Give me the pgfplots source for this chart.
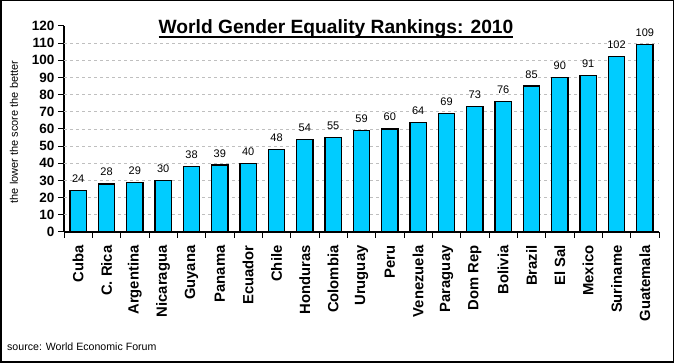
\documentclass[border=0pt]{standalone}
\usepackage{pgfplots}
\pgfplotsset{compat=1.18}
\usepackage{fontspec}
\setmainfont{Liberation Sans}
\definecolor{barcyan}{HTML}{00CCFF}
\definecolor{gridgray}{HTML}{BFBFBF}
\begin{document}
\begin{tikzpicture}[x=1pt,y=1pt]
\path[use as bounding box] (0,0) rectangle (674,363);
\draw[line width=1.5pt] (0.75,0.75) rectangle (673.25,362.25);
\begin{axis}[
  at={(64pt,131pt)}, anchor=south west,
  scale only axis, width=595pt, height=206pt,
  xmin=-0.5, xmax=20.5, ymin=0, ymax=120,
  axis lines*=left,
  axis line style={line width=1.2pt, black},
  tick align=outside,
  major tick length=6pt,
  tick style={line width=1pt, black},
  xtick={-0.5,0.5,...,20.5},
  x tick label as interval,
  xticklabel shift=4pt,
  xticklabels={Cuba,C. Rica,Argentina,Nicaragua,Guyana,Panama,Ecuador,Chile,Honduras,Colombia,Uruguay,Peru,Venezuela,Paraguay,Dom Rep,Bolivia,Brazil,El Sal,Mexico,Suriname,Guatemala},
  x tick label style={rotate=90, anchor=east, font=\fontsize{14.8}{16}\selectfont\bfseries},
  ytick={0,10,...,120},
  y tick label style={font=\fontsize{13.5}{15}\selectfont\bfseries},
  /pgf/number format/assume math mode=true,
  extra y ticks={10,20,...,110},
  extra y tick labels={},
  extra y tick style={grid=major, major tick length=0pt},
  grid style={dashed, gridgray, line width=0.8pt, dash pattern=on 3pt off 3pt},
  ybar, bar width=16.5pt,
  nodes near coords,
  every node near coord/.append style={font=\fontsize{11}{12}\selectfont, black, anchor=base, yshift=8pt},
  clip=false,
]
\addplot[fill=barcyan, draw=black, line width=1.2pt] coordinates {
(0,24) (1,28) (2,29) (3,30) (4,38) (5,39) (6,40) (7,48) (8,54) (9,55)
(10,59) (11,60) (12,64) (13,69) (14,73) (15,76) (16,85) (17,90) (18,91) (19,102) (20,109) };
\end{axis}
\node[font=\fontsize{19.2}{21}\selectfont\bfseries, anchor=base, inner sep=0] (t) at (336,329) {World Gender Equality Rankings: 2010};
\draw[line width=2pt] ([yshift=-3.5pt]t.base west) -- ([yshift=-3.5pt]t.base east);
\node[font=\fontsize{11}{12}\selectfont, rotate=90] at (14,231) {the lower the score the better};
\node[font=\fontsize{10.6}{12}\selectfont, anchor=base west, inner sep=0] at (7,12) {source: World Economic Forum};
\end{tikzpicture}
\end{document}
